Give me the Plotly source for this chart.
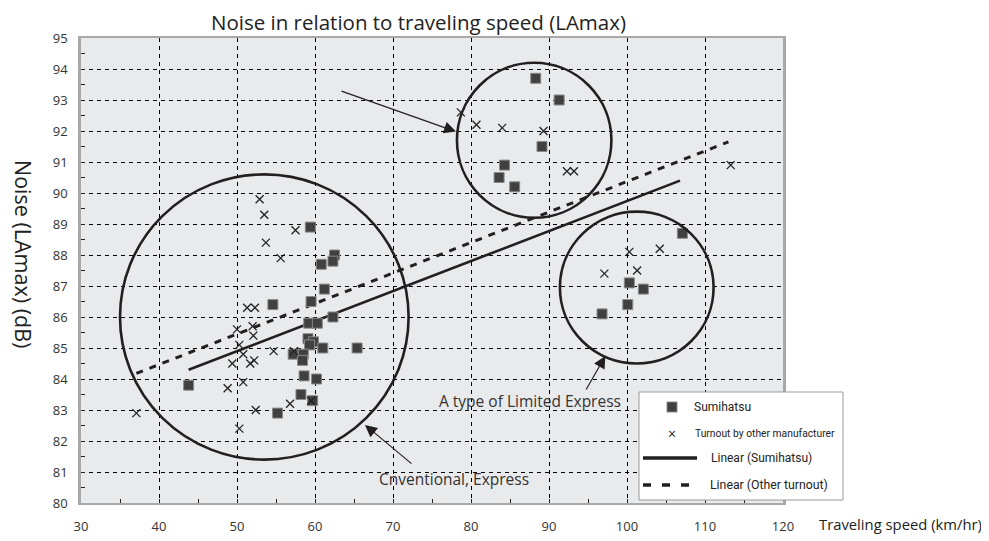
import plotly.graph_objects as go

# ---------------- data ----------------
sumi_speed = [59.4, 62.5, 62.3, 60.8, 61.2, 54.6, 59.5, 62.3, 59.2, 60.3, 59.1, 59.8,
              59.3, 61.0, 57.2, 58.5, 58.4, 65.4, 58.6, 60.2, 43.8, 58.2, 59.7, 55.2,
              88.3, 91.3, 89.1, 84.3, 83.6, 85.6,
              107.1, 100.3, 102.1, 100.1, 96.8]
sumi_noise = [88.9, 88.0, 87.8, 87.7, 86.9, 86.4, 86.5, 86.0, 85.8, 85.8, 85.3, 85.2,
              85.1, 85.0, 84.8, 84.8, 84.6, 85.0, 84.1, 84.0, 83.8, 83.5, 83.3, 82.9,
              93.7, 93.0, 91.5, 90.9, 90.5, 90.2,
              88.7, 87.1, 86.9, 86.4, 86.1]

other_speed = [52.9, 53.5, 57.5, 53.7, 55.6, 51.3, 52.3, 50.0, 52.0, 52.1, 50.3, 50.8,
               54.7, 57.3, 49.4, 51.7, 52.2, 50.8, 48.8, 56.8, 59.5, 52.4, 50.3, 37.1,
               78.7, 80.7, 84.0, 89.3, 92.3, 93.2,
               100.3, 104.2, 101.3, 97.1, 113.3]
other_noise = [89.8, 89.3, 88.8, 88.4, 87.9, 86.3, 86.3, 85.6, 85.7, 85.4, 85.1, 84.8,
               84.9, 84.9, 84.5, 84.5, 84.6, 83.9, 83.7, 83.2, 83.3, 83.0, 82.4, 82.9,
               92.6, 92.2, 92.1, 92.0, 90.7, 90.7,
               88.1, 88.2, 87.5, 87.4, 90.9]

trend_sumi_speed = [43.8, 106.8]
trend_sumi_noise = [84.3, 90.4]
trend_other_speed = [37.1, 113.0]
trend_other_noise = [84.18, 91.65]

x_ticks = [30, 40, 50, 60, 70, 80, 90, 100, 110, 120]
y_ticks = list(range(80, 96))

# ---------------- layout helpers ----------------
W, H = 989, 541
OFF = 8  # page offset of the figure inside the browser window
L, R, T, B = 81, 783, 38, 503  # plot area in window pixels


def px(xp):
    return (xp - L) / (R - L)


def py(yp):
    return (B - yp) / (B - T)


TICKFONT = "Open Sans, Noto Sans, sans-serif"
NARROW = "Roboto, sans-serif"
INK = "#231f20"

fig = go.Figure()

fig.add_trace(go.Scatter(x=trend_other_speed, y=trend_other_noise, mode="lines",
                         line=dict(color=INK, width=3, dash="7px,7px"),
                         name="Linear (Other turnout)", showlegend=False))
fig.add_trace(go.Scatter(x=trend_sumi_speed, y=trend_sumi_noise, mode="lines",
                         line=dict(color=INK, width=2.6),
                         name="Linear (Sumihatsu)", showlegend=False))
fig.add_trace(go.Scatter(x=sumi_speed, y=sumi_noise, mode="markers",
                         marker=dict(symbol="square", size=10, color="#404040",
                                     line=dict(color="#8a8a8a", width=1)),
                         name="Sumihatsu", showlegend=False))
fig.add_trace(go.Scatter(x=other_speed, y=other_noise, mode="markers",
                         marker=dict(symbol="x-thin-open", size=8, color="#222222",
                                     line=dict(color="#222222", width=1.3)),
                         name="Turnout by other manufacturer", showlegend=False))

shapes = []
# highlight circles
for cx0, cx1, cy0, cy1 in [(35.0, 72.0, 81.4, 90.6), (78.2, 98.0, 89.2, 94.2), (91.4, 111.1, 84.5, 89.4)]:
    shapes.append(dict(type="circle", xref="x", yref="y", x0=cx0, x1=cx1, y0=cy0, y1=cy1,
                       line=dict(color=INK, width=2.6)))

# custom legend box
shapes.append(dict(type="rect", xref="paper", yref="paper", x0=px(639), x1=px(843), y0=py(500), y1=py(392),
                   fillcolor="white", line=dict(color="#9a9a9a", width=1)))
shapes.append(dict(type="rect", xref="paper", yref="paper", x0=px(667), x1=px(677), y0=py(412), y1=py(402),
                   fillcolor="#404040", line=dict(color="#8a8a8a", width=1)))
shapes.append(dict(type="line", xref="paper", yref="paper", x0=px(643), x1=px(697), y0=py(458), y1=py(458),
                   line=dict(color=INK, width=3.5)))
shapes.append(dict(type="line", xref="paper", yref="paper", x0=px(643), x1=px(690), y0=py(485), y1=py(485),
                   line=dict(color=INK, width=3.5, dash="8px,11px")))

annotations = []
# title
annotations.append(dict(text="Noise in relation to traveling speed (LAmax)", xref="paper", yref="paper",
                        x=px(418), y=py(22.5), xanchor="center", yanchor="middle", showarrow=False,
                        font=dict(family=TICKFONT, size=20.5, color="#222")))
# y title (rotated clockwise)
annotations.append(dict(text="Noise (LAmax) (dB)", xref="paper", yref="paper", x=px(23), y=py(254),
                        xanchor="center", yanchor="middle", textangle=90, showarrow=False,
                        font=dict(family=TICKFONT, size=21.5, color="#222")))
# x title
annotations.append(dict(text="Traveling speed (km/hr)", xref="paper", yref="paper", x=px(817), y=py(524),
                        xanchor="left", yanchor="middle", showarrow=False,
                        font=dict(family=TICKFONT, size=14.8, color="#222")))
# arrows
annotations.append(dict(text="", x=78.08, y=91.98, xref="x", yref="y", ax=-116, ay=-41,
                        showarrow=True, arrowhead=2, arrowsize=2, arrowwidth=1.2, arrowcolor=INK))
annotations.append(dict(text="", x=97.22, y=84.74, xref="x", yref="y", ax=-20, ay=35,
                        showarrow=True, arrowhead=2, arrowsize=2, arrowwidth=1.2, arrowcolor=INK))
annotations.append(dict(text="", x=66.41, y=82.52, xref="x", yref="y", ax=48, ay=40,
                        showarrow=True, arrowhead=2, arrowsize=2, arrowwidth=1.2, arrowcolor=INK))
annotations.append(dict(text="A type of Limited Express", x=87.56, y=83.29, xref="x", yref="y",
                        showarrow=False, font=dict(family=TICKFONT, size=15.5, color="#333")))
annotations.append(dict(text="Cnventional, Express", x=77.82, y=80.77, xref="x", yref="y",
                        showarrow=False, font=dict(family=TICKFONT, size=15.5, color="#333")))
# legend texts
annotations.append(dict(text="Sumihatsu", xref="paper", yref="paper", x=px(692), y=py(407),
                        xanchor="left", yanchor="middle", showarrow=False,
                        font=dict(family=NARROW, size=12, color="#222")))
annotations.append(dict(text="×", xref="paper", yref="paper", x=px(672), y=py(433),
                        xanchor="center", yanchor="middle", showarrow=False,
                        font=dict(family=TICKFONT, size=14, color="#222")))
annotations.append(dict(text="Turnout by other manufacturer", xref="paper", yref="paper", x=px(693), y=py(433),
                        xanchor="left", yanchor="middle", showarrow=False,
                        font=dict(family=NARROW, size=10.3, color="#222")))
annotations.append(dict(text="Linear (Sumihatsu)", xref="paper", yref="paper", x=px(709), y=py(458),
                        xanchor="left", yanchor="middle", showarrow=False,
                        font=dict(family=NARROW, size=12, color="#222")))
annotations.append(dict(text="Linear (Other turnout)", xref="paper", yref="paper", x=px(708), y=py(485),
                        xanchor="left", yanchor="middle", showarrow=False,
                        font=dict(family=NARROW, size=12.3, color="#222")))

fig.update_layout(
    width=W, height=H,
    margin=dict(l=L - OFF, r=W - (R - OFF), t=T - OFF, b=H - (B - OFF), pad=0),
    paper_bgcolor="white",
    plot_bgcolor="#e9eaec",
    showlegend=False,
    shapes=shapes,
    annotations=annotations,
    xaxis=dict(range=[30, 120], tickvals=x_ticks, ticktext=[str(v) for v in x_ticks],
               showgrid=True, gridcolor="#000", griddash="4px,4px", gridwidth=1,
               zeroline=False, showline=True, linecolor="#a8a8a8", linewidth=1.5, mirror=True,
               ticks="inside", ticklen=4, tickcolor="#222",
               minor=dict(dtick=5, ticks="inside", ticklen=4, tickcolor="#222", showgrid=False),
               tickfont=dict(family=TICKFONT, size=13, color="#333"), ticklabelstandoff=11),
    yaxis=dict(range=[80, 95], tickvals=y_ticks, ticktext=[str(v) for v in y_ticks],
               showgrid=True, gridcolor="#000", griddash="4px,4px", gridwidth=1,
               zeroline=False, showline=True, linecolor="#a8a8a8", linewidth=2.5, mirror=True,
               ticks="inside", ticklen=4, tickcolor="#222",
               minor=dict(dtick=0.5, ticks="inside", ticklen=4, tickcolor="#222", showgrid=False),
               tickfont=dict(family=TICKFONT, size=13, color="#333"), ticklabelstandoff=8),
)

fig.write_html("out.html")
